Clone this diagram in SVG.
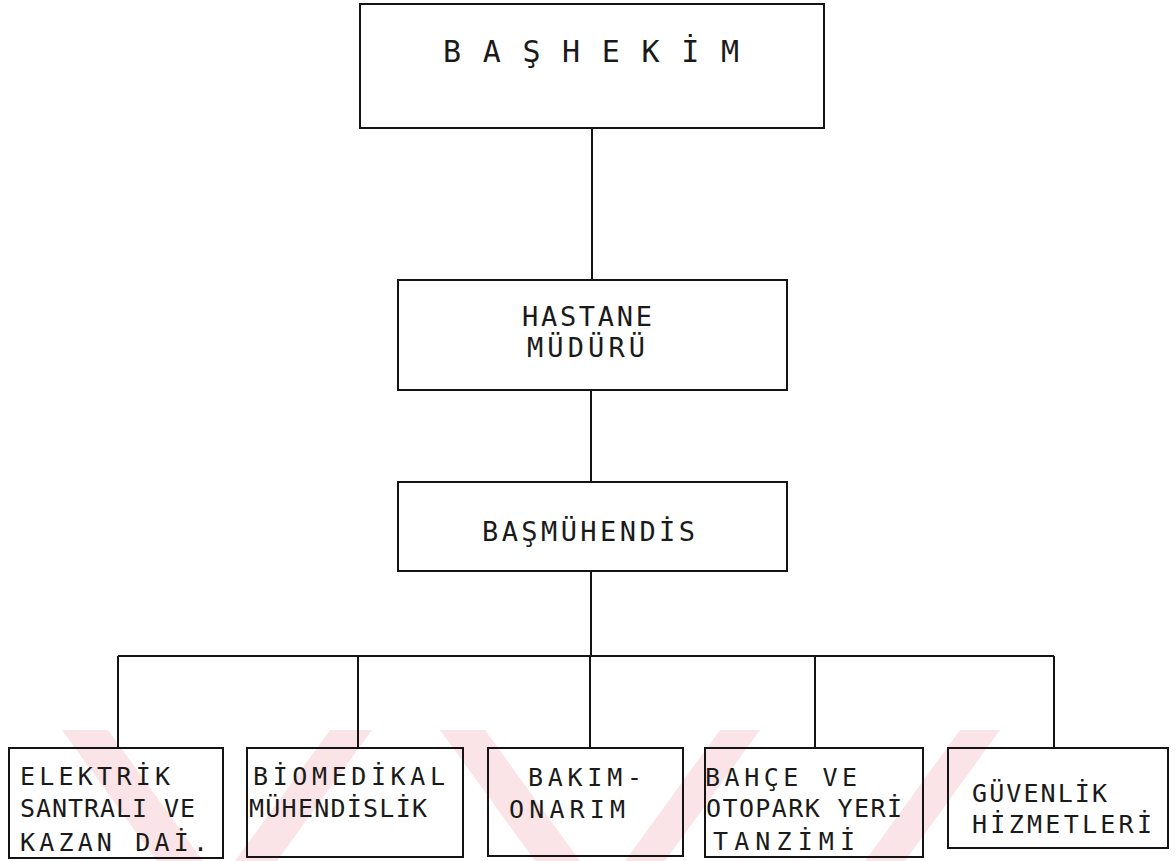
<svg xmlns="http://www.w3.org/2000/svg" width="1176" height="861" viewBox="0 0 1176 861">
  <style>
    .box { fill: none; stroke: #141414; stroke-width: 2; }
    .wire { fill: none; stroke: #141414; stroke-width: 2; }
    .t { font-family: "DejaVu Sans Mono", "Liberation Mono", monospace; fill: #1a1a1a; }
    .big { font-size: 30px; }
    .mid { font-size: 27px; }
    .sm { font-size: 25px; }
    .wm { fill: #fbe4e7; }
  </style>
  <rect width="1176" height="861" fill="#ffffff"/>

  <!-- background watermark bands -->
  <g id="watermark">
    <polygon class="wm" points="62,730 108,730 203,861 157,861"/>
    <polygon class="wm" points="330,730 372,730 277,861 235,861"/>
    <polygon class="wm" points="440,730 485,730 580,861 535,861"/>
    <polygon class="wm" points="720,730 760,730 665,861 625,861"/>
    <polygon class="wm" points="960,730 1000,730 905,861 865,861"/>
  </g>

  <!-- connectors -->
  <g id="connectors">
    <path class="wire" d="M592,128 V280"/>
    <path class="wire" d="M591,390 V482"/>
    <path class="wire" d="M591,571 V656"/>
    <path class="wire" d="M118,656 H1054"/>
    <path class="wire" d="M118,656 V748"/>
    <path class="wire" d="M358,656 V748"/>
    <path class="wire" d="M590,656 V748"/>
    <path class="wire" d="M815,656 V748"/>
    <path class="wire" d="M1054,656 V748"/>
  </g>

  <g id="bashekim">
    <rect class="box" x="360" y="4" width="464" height="124"/>
    <text class="t big" x="443" y="62" textLength="296" lengthAdjust="spacing">B A Ş H E K İ M</text>
  </g>

  <g id="hastane-muduru">
    <rect class="box" x="398" y="280" width="389" height="110"/>
    <text class="t mid" x="522" y="326" textLength="130" lengthAdjust="spacing">HASTANE</text>
    <text class="t mid" x="527" y="357" textLength="118" lengthAdjust="spacing">MÜDÜRÜ</text>
  </g>

  <g id="basmuhendis">
    <rect class="box" x="398" y="482" width="389" height="89"/>
    <text class="t mid" x="482" y="541" textLength="213" lengthAdjust="spacing">BAŞMÜHENDİS</text>
  </g>

  <g id="elektrik">
    <rect class="box" x="9" y="748" width="214" height="110"/>
    <text class="t sm" x="20" y="785" textLength="150" lengthAdjust="spacing">ELEKTRİK</text>
    <text class="t sm" x="20" y="817" textLength="175" lengthAdjust="spacing">SANTRALI VE</text>
    <text class="t sm" x="20" y="851" textLength="188" lengthAdjust="spacing">KAZAN DAİ.</text>
  </g>

  <g id="biomedikal">
    <rect class="box" x="247" y="748" width="216" height="109"/>
    <text class="t sm" x="253" y="785" textLength="192" lengthAdjust="spacing">BİOMEDİKAL</text>
    <text class="t sm" x="249" y="817" textLength="178" lengthAdjust="spacing">MÜHENDİSLİK</text>
  </g>

  <g id="bakim-onarim">
    <rect class="box" x="488" y="748" width="195" height="108"/>
    <text class="t sm" x="528" y="786" textLength="114" lengthAdjust="spacing">BAKIM-</text>
    <text class="t sm" x="509" y="818" textLength="116" lengthAdjust="spacing">ONARIM</text>
  </g>

  <g id="bahce-otopark">
    <rect class="box" x="705" y="748" width="218" height="109"/>
    <text class="t sm" x="705" y="786" textLength="152" lengthAdjust="spacing">BAHÇE VE</text>
    <text class="t sm" x="706" y="817" textLength="196" lengthAdjust="spacing">OTOPARK YERİ</text>
    <text class="t sm" x="713" y="850" textLength="142" lengthAdjust="spacing">TANZİMİ</text>
  </g>

  <g id="guvenlik">
    <rect class="box" x="948" y="748" width="220" height="100"/>
    <text class="t sm" x="972" y="802" textLength="135" lengthAdjust="spacing">GÜVENLİK</text>
    <text class="t sm" x="972" y="833" textLength="180" lengthAdjust="spacing">HİZMETLERİ</text>
  </g>
</svg>
